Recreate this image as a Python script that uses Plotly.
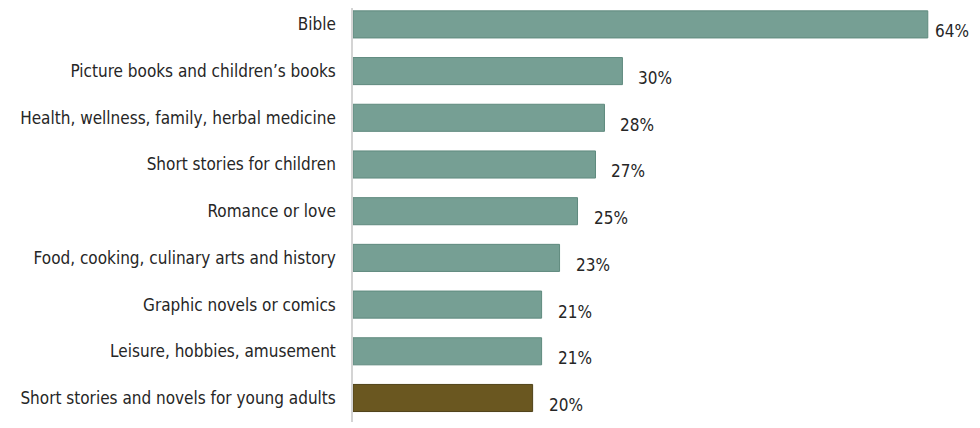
import plotly.graph_objects as go

categories = [
    "Bible",
    "Picture books and children\u2019s books",
    "Health, wellness, family, herbal medicine",
    "Short stories for children",
    "Romance or love",
    "Food, cooking, culinary arts and history",
    "Graphic novels or comics",
    "Leisure, hobbies, amusement",
    "Short stories and novels for young adults",
]
values = [64, 30, 28, 27, 25, 23, 21, 21, 20]
highlight = "Short stories and novels for young adults"

teal = "#769f94"
olive = "#6a5720"
colors = [olive if c == highlight else teal for c in categories]
edges = ["#4f4218" if c == highlight else "#5f8a7e" for c in categories]

font_family = "DejaVu Sans Condensed, Liberation Sans Narrow, sans-serif"
txt = "#262626"

fig = go.Figure(go.Bar(
    x=values,
    y=categories,
    orientation="h",
    marker=dict(color=colors, line=dict(color=edges, width=1)),
    hoverinfo="skip",
))

# value labels sit a little below the bar centre in the original
for c, v in zip(categories, values):
    fig.add_annotation(
        x=v, y=c, text=f"{v}%", showarrow=False,
        xanchor="left", yanchor="middle",
        xshift=5 if v == max(values) else 14, yshift=-7,
        font=dict(family=font_family, size=17, color=txt),
    )

fig.update_layout(
    width=980, height=428,
    margin=dict(l=345, r=18, t=0, b=14),
    paper_bgcolor="white", plot_bgcolor="white",
    bargap=0.42,
    showlegend=False,
    font=dict(family=font_family, size=17, color=txt),
)
fig.update_xaxes(range=[0, 68.7], visible=False, showgrid=False,
                 zeroline=False, automargin=False)
fig.update_yaxes(
    range=[8.514, -0.351], showgrid=False, zeroline=False, automargin=False,
    showline=True, linecolor="#d4d4d4", linewidth=1.5,
    ticks="", ticklabelstandoff=12,
    tickfont=dict(family=font_family, size=17, color=txt),
)

fig.write_html("out.html")
